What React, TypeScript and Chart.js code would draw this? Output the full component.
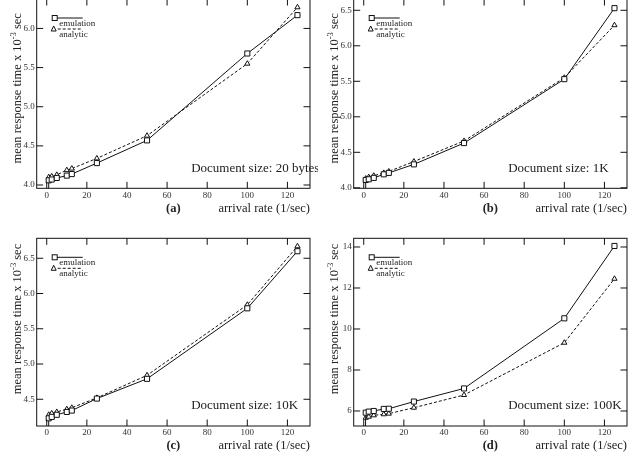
import React, { useEffect, useRef } from 'react';
import { Chart, registerables } from 'chart.js';

Chart.register(...registerables);

// ---------- data ----------
const arrivalRates = [1, 2.5, 5, 10, 12.5, 25, 50, 100, 125];
// the emulation curves start from the origin (drawn as a near-vertical line below the first point)
const originRate = 0;
const originValue = 0;

const emulationA = [4.06, 4.07, 4.09, 4.12, 4.14, 4.28, 4.57, 5.68, 6.17];
const analyticA = [4.10, 4.11, 4.13, 4.19, 4.21, 4.34, 4.63, 5.55, 6.27];

const emulationB = [4.11, 4.12, 4.14, 4.19, 4.21, 4.33, 4.63, 5.53, 6.53];
const analyticB = [4.13, 4.15, 4.17, 4.21, 4.23, 4.37, 4.66, 5.55, 6.29];

const emulationC = [4.23, 4.25, 4.28, 4.32, 4.34, 4.51, 4.79, 5.79, 6.60];
const analyticC = [4.28, 4.30, 4.32, 4.36, 4.38, 4.52, 4.84, 5.84, 6.67];

const emulationD = [5.92, 5.97, 6.0, 6.1, 6.11, 6.46, 7.1, 10.52, 14.05];
const analyticD = [5.67, 5.72, 5.79, 5.84, 5.87, 6.16, 6.78, 9.33, 12.45];

const xTickValues = [0, 20, 40, 60, 80, 100, 120];
const yTicksA = [4.0, 4.5, 5.0, 5.5, 6.0];
const yTicksB = [4.0, 4.5, 5.0, 5.5, 6.0, 6.5];
const yTicksC = [4.5, 5.0, 5.5, 6.0, 6.5];
const yTicksD = [6, 8, 10, 12, 14];

const seriesNames = ['emulation', 'analytic'];
const docSizes = ['20 bytes', '1K', '10K', '100K'];
const panelLetters = ['(a)', '(b)', '(c)', '(d)'];
const xTitle = 'arrival rate (1/sec)';
const yTitleMain = 'mean response time x 10';
const yTitleSup = '-3';
const yTitleTail = ' sec';

// ---------- layout ----------
const SERIF = '"Liberation Serif", "Times New Roman", serif';
const CW = 318;
const CH = 230;
const X_MIN = -5;
const X_MAX = 131.25;

type Panel = {
  emu: number[];
  ana: number[];
  yTicks: number[];
  yMin: number;
  yMax: number;
  dec: number;
  left: number;
  top: number;
  padTop: number;
  padBottom: number;
  yTitleOffset: number;
};

const panels: Panel[] = [
  { emu: emulationA, ana: analyticA, yTicks: yTicksA, yMin: 3.958, yMax: 6.376, dec: 1, left: 0, top: -10, padTop: 9, padBottom: 1.7, yTitleOffset: 100 },
  { emu: emulationB, ana: analyticB, yTicks: yTicksB, yMin: 3.993, yMax: 6.659, dec: 1, left: 317, top: -10, padTop: 9, padBottom: 1.7, yTitleOffset: 100 },
  { emu: emulationC, ana: analyticC, yTicks: yTicksC, yMin: 4.121, yMax: 6.783, dec: 1, left: 0, top: 226, padTop: 12.3, padBottom: 0, yTitleOffset: 107 },
  { emu: emulationD, ana: analyticD, yTicks: yTicksD, yMin: 5.268, yMax: 14.424, dec: 0, left: 317, top: 226, padTop: 12.3, padBottom: 0, yTitleOffset: 107 },
];

function drawSquare(ctx: CanvasRenderingContext2D, x: number, y: number, s: number) {
  ctx.fillStyle = '#fff';
  ctx.fillRect(x - s / 2, y - s / 2, s, s);
  ctx.strokeRect(x - s / 2, y - s / 2, s, s);
}
function drawTriangle(ctx: CanvasRenderingContext2D, x: number, y: number, s: number) {
  ctx.beginPath();
  ctx.moveTo(x, y - s * 0.6);
  ctx.lineTo(x + s / 2, y + s * 0.4);
  ctx.lineTo(x - s / 2, y + s * 0.4);
  ctx.closePath();
  ctx.fillStyle = '#fff';
  ctx.fill();
  ctx.stroke();
}

function makeDecorPlugin(idx: number, p: Panel) {
  return {
    id: 'decor' + idx,
    afterDraw(chart: any) {
      const ctx: CanvasRenderingContext2D = chart.ctx;
      const { left, right, top, bottom } = chart.chartArea;
      const xs = chart.scales.x;
      const ys = chart.scales.y;
      ctx.save();
      ctx.strokeStyle = '#111';
      ctx.lineWidth = 1;
      // frame
      ctx.strokeRect(left, top, right - left, bottom - top);
      // inward ticks
      const TL = 6.5;
      ctx.beginPath();
      xTickValues.forEach((v) => {
        const px = xs.getPixelForValue(v);
        ctx.moveTo(px, bottom);
        ctx.lineTo(px, bottom - TL);
        ctx.moveTo(px, top);
        ctx.lineTo(px, top + TL);
      });
      p.yTicks.forEach((v) => {
        const py = ys.getPixelForValue(v);
        ctx.moveTo(left, py);
        ctx.lineTo(left + TL, py);
        ctx.moveTo(right, py);
        ctx.lineTo(right - TL, py);
      });
      ctx.stroke();

      // legend
      const lx = left + 18;
      const ly1 = top + 19;
      const ly2 = top + 30;
      ctx.lineWidth = 1;
      ctx.beginPath();
      ctx.moveTo(lx, ly1);
      ctx.lineTo(left + 46, ly1);
      ctx.stroke();
      drawSquare(ctx, lx, ly1, 5);
      ctx.setLineDash([3, 2]);
      ctx.beginPath();
      ctx.moveTo(lx + 3, ly2);
      ctx.lineTo(left + 46, ly2);
      ctx.stroke();
      ctx.setLineDash([]);
      drawTriangle(ctx, lx - 1, ly2, 5);
      ctx.fillStyle = '#222';
      ctx.font = `9px ${SERIF}`;
      ctx.textAlign = 'left';
      ctx.textBaseline = 'middle';
      ctx.fillText(seriesNames[0], left + 22.5, top + 24.5);
      ctx.fillText(seriesNames[1], left + 22.5, top + 35.5);

      // document size
      ctx.font = `13px ${SERIF}`;
      ctx.fillText('Document size: ' + docSizes[idx], left + 154.5, bottom - 20);

      // x title and panel letter
      ctx.font = `12.5px ${SERIF}`;
      ctx.textAlign = 'right';
      ctx.fillText(xTitle, right, bottom + 20);
      ctx.font = `bold 12.5px ${SERIF}`;
      ctx.textAlign = 'center';
      ctx.fillText(panelLetters[idx], (left + right) / 2, bottom + 20);

      // y title (rotated)
      ctx.save();
      ctx.translate(left - 18.5, bottom - p.yTitleOffset);
      ctx.rotate(-Math.PI / 2);
      ctx.font = `12.5px ${SERIF}`;
      const w1 = ctx.measureText(yTitleMain).width;
      const w3 = ctx.measureText(yTitleTail).width;
      ctx.font = `8.5px ${SERIF}`;
      const w2 = ctx.measureText(yTitleSup).width;
      const start = -(w1 + w2 + w3) / 2;
      ctx.textAlign = 'left';
      ctx.font = `12.5px ${SERIF}`;
      ctx.fillText(yTitleMain, start, 0);
      ctx.font = `8.5px ${SERIF}`;
      ctx.fillText(yTitleSup, start + w1, -4.5);
      ctx.font = `12.5px ${SERIF}`;
      ctx.fillText(yTitleTail, start + w1 + w2, 0);
      ctx.restore();

      ctx.restore();
    },
  };
}

function ChartPanel({ idx }: { idx: number }) {
  const ref = useRef<HTMLCanvasElement>(null);
  const p = panels[idx];
  useEffect(() => {
    const emuData = [{ x: originRate, y: originValue }].concat(
      arrivalRates.map((x, i) => ({ x, y: p.emu[i] }))
    );
    const anaData = arrivalRates.map((x, i) => ({ x, y: p.ana[i] }));
    const tickFont = { family: SERIF, size: 9 };
    const chart = new Chart(ref.current as HTMLCanvasElement, {
      type: 'line',
      data: {
        datasets: [
          {
            label: seriesNames[0],
            data: emuData,
            borderColor: '#111',
            borderWidth: 1,
            backgroundColor: '#fff',
            pointStyle: 'rect',
            pointRadius: (c: any) => (c.dataIndex === 0 ? 0 : 3.6),
            pointBorderColor: '#111',
            pointBackgroundColor: '#fff',
            pointBorderWidth: 1,
            tension: 0,
          },
          {
            label: seriesNames[1],
            data: anaData,
            borderColor: '#111',
            borderWidth: 1,
            borderDash: [3, 2],
            backgroundColor: '#fff',
            pointStyle: 'triangle',
            pointRadius: 3,
            pointBorderColor: '#111',
            pointBackgroundColor: '#fff',
            pointBorderWidth: 1,
            tension: 0,
          },
        ],
      },
      options: {
        animation: false,
        responsive: false,
        maintainAspectRatio: false,
        layout: { padding: { left: 0, right: CW - 310, top: p.padTop, bottom: p.padBottom } },
        plugins: { legend: { display: false }, tooltip: { enabled: false } },
        scales: {
          x: {
            type: 'linear',
            min: X_MIN,
            max: X_MAX,
            grid: { display: false, drawTicks: false },
            border: { display: false },
            ticks: {
              font: tickFont,
              color: '#333',
              padding: 1.5,
              maxRotation: 0,
              autoSkip: false,
              callback: (v: any) => String(v),
            },
            afterBuildTicks: (s: any) => {
              s.ticks = xTickValues.map((v) => ({ value: v }));
            },
            afterFit: (s: any) => {
              s.height = 30;
            },
          },
          y: {
            type: 'linear',
            min: p.yMin,
            max: p.yMax,
            grid: { display: false, drawTicks: false },
            border: { display: false },
            ticks: {
              font: tickFont,
              color: '#333',
              padding: 2,
              autoSkip: false,
              callback: (v: any) => Number(v).toFixed(p.dec),
            },
            afterBuildTicks: (s: any) => {
              s.ticks = p.yTicks.map((v) => ({ value: v }));
            },
            afterFit: (s: any) => {
              s.width = 36.7;
            },
          },
        },
      } as any,
      plugins: [makeDecorPlugin(idx, p)],
    });
    return () => chart.destroy();
  }, []);
  return (
    <canvas
      ref={ref}
      width={CW}
      height={CH}
      style={{ position: 'absolute', left: p.left, top: p.top, width: CW, height: CH }}
    />
  );
}

export default function App() {
  return (
    <div
      style={{
        position: 'fixed',
        left: 0,
        top: 0,
        width: 637,
        height: 456,
        overflow: 'hidden',
        background: '#fff',
      }}
    >
      {panels.map((_, i) => (
        <ChartPanel key={i} idx={i} />
      ))}
    </div>
  );
}
